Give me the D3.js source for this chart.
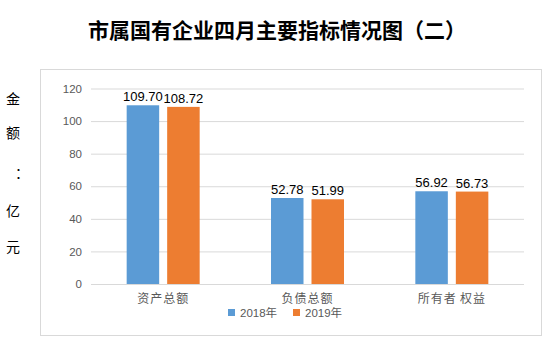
<!DOCTYPE html>
<html>
<head>
<meta charset="utf-8">
<script src="https://cdn.jsdelivr.net/npm/d3@7"></script>
<style>
  body { margin: 0; background: #fff; }
  svg { display: block; }
</style>
</head>
<body>
<svg id="chart" width="556" height="346"></svg>
<script>
// Indicator categories and yearly values (亿元)
const categories = ["资产总额", "负债总额", "所有者\u2009权益"];
const seriesNames = ["2018年", "2019年"];
const values2018 = [109.70, 52.78, 56.92];
const values2019 = [108.72, 51.99, 56.73];
const yTicks = [0, 20, 40, 60, 80, 100, 120];
const seriesColors = ["#5B9BD5", "#ED7D31"];

const svg = d3.select("#chart");
const W = 556, H = 346;

svg.append("rect").attr("width", W).attr("height", H).attr("fill", "#fff");

// Title
svg.append("text")
  .attr("x", 277).attr("y", 38)
  .attr("text-anchor", "middle")
  .attr("font-family", "'Noto Sans CJK SC', sans-serif")
  .attr("font-weight", "bold")
  .attr("font-size", 21)
  .attr("fill", "#000")
  .text("市属国有企业四月主要指标情况图（二）");

// Chart frame
svg.append("rect")
  .attr("x", 40.5).attr("y", 69.5)
  .attr("width", 501).attr("height", 266)
  .attr("fill", "none").attr("stroke", "#d9d9d9").attr("stroke-width", 1);

// Vertical axis title, one character per line
const yTitle = ["金", "额", "：", "亿", "元"];
const yTitleY = [104, 138, 178, 216, 252];
svg.append("g").selectAll("text").data(yTitle).join("text")
  .attr("x", (d) => d === "：" ? 22 : 13)
  .attr("y", (d, i) => yTitleY[i])
  .attr("text-anchor", "middle")
  .attr("font-family", "'Noto Sans CJK SC', sans-serif")
  .attr("font-size", 14)
  .attr("fill", "#000")
  .text(d => d);

const plot = { left: 91, right: 524, top: 88.5, bottom: 284 };

const y = d3.scaleLinear().domain([0, 120]).range([plot.bottom, plot.top]);
const x0 = d3.scaleBand().domain(categories).range([plot.left, plot.right]).padding(0);
const bw = x0.bandwidth();
const x1 = d3.scaleBand().domain(seriesNames)
  .range([(bw - 73) / 2, (bw + 73) / 2])
  .paddingInner(8 / 40.5).paddingOuter(0);

// Gridlines and tick labels
const yAxis = d3.axisLeft(y).tickValues(yTicks).tickSize(-(plot.right - plot.left)).tickPadding(9);
const gy = svg.append("g").attr("transform", `translate(${plot.left},0)`).call(yAxis);
gy.select(".domain").remove();
gy.selectAll(".tick line").attr("stroke", "#d9d9d9");
gy.selectAll(".tick text")
  .attr("font-family", "'Liberation Sans', Arial, sans-serif")
  .attr("font-size", 11.5)
  .attr("fill", "#595959");

// Category axis labels
const xAxis = d3.axisBottom(x0).tickSize(0).tickPadding(10);
const gx = svg.append("g").attr("transform", `translate(0,${plot.bottom})`).call(xAxis);
gx.select(".domain").remove();
gx.selectAll(".tick text")
  .attr("font-family", "'Noto Sans CJK SC', sans-serif")
  .attr("font-size", 12)
  .attr("letter-spacing", 1)
  .attr("fill", "#595959");

// Bars and value labels
const rows = categories.map((c, i) => ({ cat: c, vals: [values2018[i], values2019[i]] }));
const groups = svg.append("g").selectAll("g").data(rows).join("g")
  .attr("transform", d => `translate(${x0(d.cat)},0)`);

groups.selectAll("rect").data(d => d.vals.map((v, j) => ({ name: seriesNames[j], v, j })))
  .join("rect")
  .attr("x", d => x1(d.name))
  .attr("y", d => y(d.v))
  .attr("width", x1.bandwidth())
  .attr("height", d => y(0) - y(d.v))
  .attr("fill", d => seriesColors[d.j]);

groups.selectAll("text.val").data(d => d.vals.map((v, j) => ({ name: seriesNames[j], v, j })))
  .join("text")
  .attr("class", "val")
  .attr("x", d => x1(d.name) + x1.bandwidth() / 2)
  .attr("y", d => y(d.v) - 4)
  .attr("text-anchor", "middle")
  .attr("font-family", "'Liberation Sans', Arial, sans-serif")
  .attr("font-size", 13)
  .attr("fill", "#000")
  .text(d => d.v.toFixed(2));

// Legend
const legend = svg.append("g").attr("transform", "translate(228,313)");
const items = legend.selectAll("g").data(seriesNames).join("g")
  .attr("transform", (d, i) => `translate(${i * 65},0)`);
items.append("rect")
  .attr("x", 0).attr("y", -4).attr("width", 7).attr("height", 7)
  .attr("fill", (d, i) => seriesColors[i]);
items.append("text")
  .attr("x", 12).attr("y", 4)
  .attr("font-family", "'Liberation Sans', 'Noto Sans CJK SC', sans-serif")
  .attr("font-size", 11.5)
  .attr("fill", "#595959")
  .text(d => d);
</script>
</body>
</html>
